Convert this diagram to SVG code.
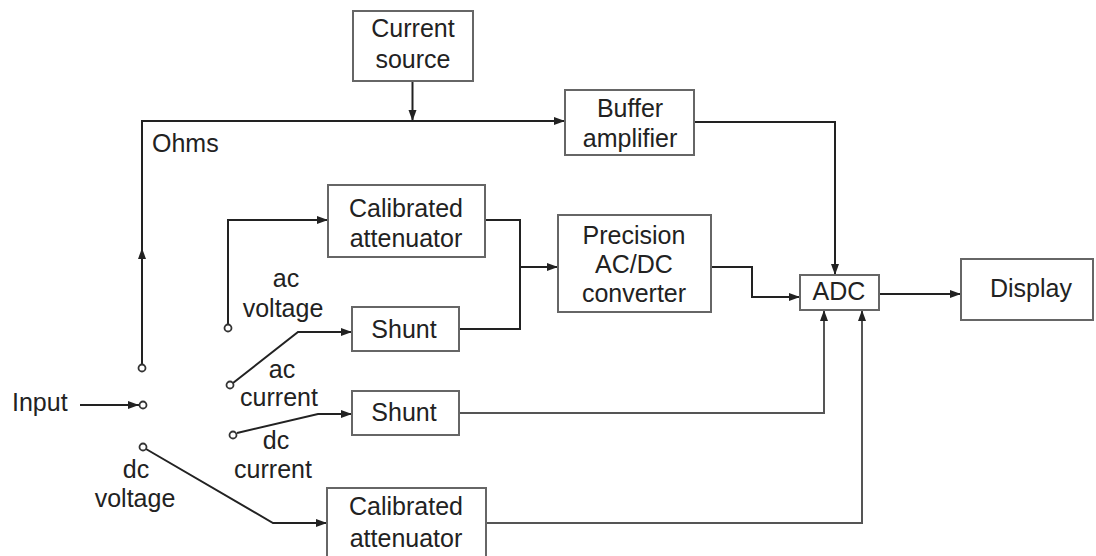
<svg xmlns="http://www.w3.org/2000/svg" width="1096" height="556" viewBox="0 0 1096 556">
<defs>
<marker id="ah" markerUnits="userSpaceOnUse" markerWidth="12" markerHeight="10" refX="11" refY="4" orient="auto">
<path d="M0,0 L11,4 L0,8 z" fill="#222"/>
</marker>
<style>
.box{fill:#fff;stroke:#666;stroke-width:2}
.t{font-family:"Liberation Sans",Arial,sans-serif;font-size:25px;fill:#222;text-anchor:middle}
.l{font-family:"Liberation Sans",Arial,sans-serif;font-size:25px;fill:#222}
.c{fill:none;stroke:#222;stroke-width:2}
.ca{fill:none;stroke:#222;stroke-width:2;marker-end:url(#ah)}
.g{fill:none;stroke:#555;stroke-width:2;marker-end:url(#ah)}
.pt{fill:#fff;stroke:#333;stroke-width:1.8}
</style>
</defs>
<rect width="1096" height="556" fill="#fff"/>
<g id="connectors">
<path class="ca" d="M142,364 V248"/>
<path class="ca" d="M142,252 V121 H565"/>
<path class="ca" d="M412.5,81 V121"/>
<path class="ca" d="M228,324 V220 H328"/>
<path class="ca" d="M233,383 L298,332 H352"/>
<path class="ca" d="M237,433 L318,414 H352"/>
<path class="ca" d="M146,449 L273,523 H327"/>
<path class="ca" d="M80,405 H139"/>
<path class="c" d="M485,220 H520 V329 H459"/>
<path class="ca" d="M520,267 H558"/>
<path class="ca" d="M711,267 H752 V297 H800"/>
<path class="ca" d="M694,122 H835 V275"/>
<path class="g" d="M459,413 H824 V310"/>
<path class="g" d="M486,523 H862 V310"/>
<path class="ca" d="M879,294 H961"/>
<circle class="pt" cx="142" cy="368" r="3.5"/>
<circle class="pt" cx="143" cy="405" r="3.5"/>
<circle class="pt" cx="143" cy="447" r="3.5"/>
<circle class="pt" cx="228" cy="328" r="3.5"/>
<circle class="pt" cx="230" cy="385" r="3.5"/>
<circle class="pt" cx="233" cy="435" r="3.5"/>
</g>
<g id="current-source"><rect class="box" x="353" y="11" width="120" height="70"/><text class="t" x="413" y="37">Current</text><text class="t" x="413" y="68">source</text></g>
<g id="buffer-amplifier"><rect class="box" x="565" y="90" width="129" height="65"/><text class="t" x="630" y="117">Buffer</text><text class="t" x="630" y="147">amplifier</text></g>
<g id="cal-att-top"><rect class="box" x="328" y="185" width="157" height="72"/><text class="t" x="406" y="217">Calibrated</text><text class="t" x="406" y="247">attenuator</text></g>
<g id="precision"><rect class="box" x="558" y="215" width="153" height="97"/><text class="t" x="634" y="244">Precision</text><text class="t" x="634" y="273">AC/DC</text><text class="t" x="634" y="302">converter</text></g>
<g id="shunt-ac"><rect class="box" x="352" y="307" width="107" height="44"/><text class="t" x="404" y="338">Shunt</text></g>
<g id="shunt-dc"><rect class="box" x="352" y="391" width="107" height="44"/><text class="t" x="404" y="421">Shunt</text></g>
<g id="cal-att-bottom"><rect class="box" x="327" y="488" width="159" height="72"/><text class="t" x="406" y="515">Calibrated</text><text class="t" x="406" y="547">attenuator</text></g>
<g id="adc"><rect class="box" x="800" y="275" width="79" height="35"/><text class="t" x="839" y="300">ADC</text></g>
<g id="display"><rect class="box" x="961" y="259" width="132" height="61"/><text class="t" x="1031" y="297">Display</text></g>
<g id="labels">
<text class="l" x="152" y="152">Ohms</text>
<text class="l" x="12" y="411">Input</text>
<text class="t" x="286" y="287">ac</text>
<text class="t" x="283" y="317">voltage</text>
<text class="t" x="282" y="378">ac</text>
<text class="t" x="279" y="406">current</text>
<text class="t" x="276" y="449">dc</text>
<text class="t" x="273" y="478">current</text>
<text class="t" x="136" y="478">dc</text>
<text class="t" x="135" y="507">voltage</text>
</g>
</svg>
